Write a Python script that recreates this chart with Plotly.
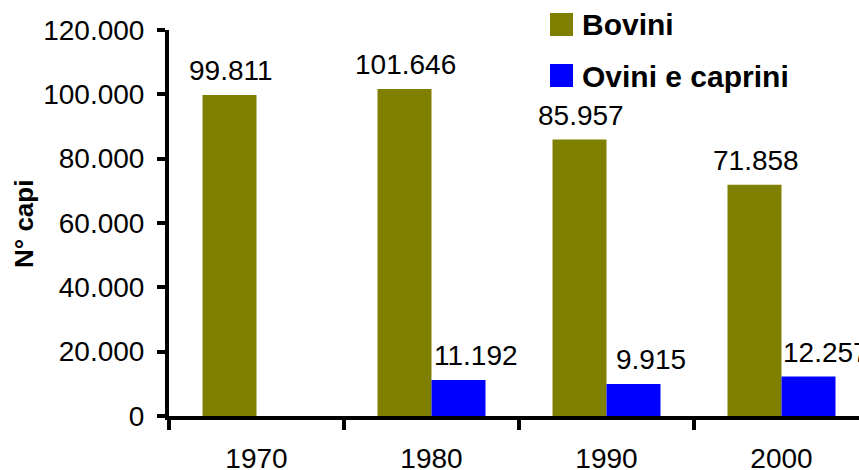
import plotly.graph_objects as go

years = ["1970", "1980", "1990", "2000"]
bovini = [99811, 101646, 85957, 71858]
ovini = [None, 11192, 9915, 12257]
series_names = ["Bovini", "Ovini e caprini"]
colors = ["#808000", "#0000FF"]
y_ticks = [0, 20000, 40000, 60000, 80000, 100000, 120000]

W, H = 859, 470
ML, MR, MT, MB = 169, 0, 30, 54
PW, PH = W - ML - MR, H - MT - MB
CAT_W = 175.0
FONT = "Liberation Sans, Arial, sans-serif"
FS = 28


def fmt(v):
    return f"{v:,}".replace(",", ".")


def px_x(px):
    return (px - ML) / PW


def px_y(py):
    return (H - MB - py) / PH


fig = go.Figure()
for name, vals, col in zip(series_names, [bovini, ovini], colors):
    fig.add_trace(go.Bar(
        x=years, y=vals, name=name, marker=dict(color=col, line=dict(width=0)),
        showlegend=False,
    ))

annotations = []
# value labels (x given as category index; years look numeric)
for vals, xs in [(bovini, -26), (ovini, -26 + 54 + 16)]:
    for i, v in enumerate(vals):
        if v is None:
            continue
        annotations.append(dict(
            x=i, y=v, xref="x", yref="y", text=fmt(v), showarrow=False,
            xanchor="center", yanchor="bottom", xshift=xs, yshift=7,
            font=dict(family=FONT, size=FS, color="black"),
        ))

# y-axis title
annotations.append(dict(
    x=px_x(24), y=px_y(224), xref="paper", yref="paper", text="<b>N° capi</b>",
    showarrow=False, textangle=-90, xanchor="center", yanchor="middle",
    font=dict(family=FONT, size=26, color="black"),
))

# manual legend
shapes = []
leg_rows = [(13, 36, 25), (64, 87, 76)]
for (y0, y1, yc), name, col in zip(leg_rows, series_names, colors):
    shapes.append(dict(
        type="rect", xref="paper", yref="paper",
        x0=px_x(550), x1=px_x(573), y0=px_y(y1), y1=px_y(y0),
        fillcolor=col, line=dict(width=0),
    ))
    annotations.append(dict(
        x=px_x(580), y=px_y(yc), xref="paper", yref="paper",
        text=f"<b>{name}</b>", showarrow=False, xanchor="left", yanchor="middle",
        font=dict(family=FONT, size=30, color="black"),
    ))

fig.update_layout(
    width=W, height=H,
    margin=dict(l=ML, r=MR, t=MT, b=MB, pad=0, autoexpand=False),
    paper_bgcolor="white", plot_bgcolor="white",
    barmode="group", bargap=0.383, bargroupgap=0,
    separators=",.",
    showlegend=False,
    annotations=annotations, shapes=shapes,
    font=dict(family=FONT, size=FS, color="black"),
)
fig.update_xaxes(
    type="category", range=[-0.5, -0.5 + PW / CAT_W], automargin=False,
    showline=True, linecolor="black", linewidth=4,
    ticks="outside", tickson="boundaries", ticklen=10, tickwidth=4, tickcolor="black",
    showgrid=False, zeroline=False, ticklabelstandoff=14,
    tickfont=dict(family=FONT, size=FS, color="black"),
)
fig.update_yaxes(
    range=[0, 120000], tickvals=y_ticks, ticktext=[fmt(v) for v in y_ticks],
    automargin=False,
    showline=True, linecolor="black", linewidth=4,
    ticks="outside", ticklen=8, tickwidth=4, tickcolor="black",
    showgrid=False, zeroline=False, ticklabelstandoff=7,
    tickfont=dict(family=FONT, size=FS, color="black"),
)

fig.write_html(
    "out.html",
    config={"displayModeBar": False},
    post_script="document.body.style.margin='0';document.body.style.overflow='hidden';",
)
